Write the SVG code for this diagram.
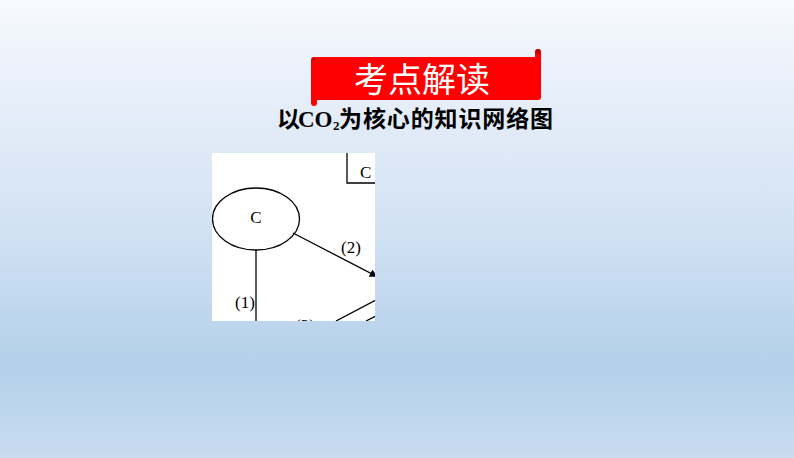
<svg xmlns="http://www.w3.org/2000/svg" width="794" height="458" viewBox="0 0 794 458">
<defs>
<linearGradient id="bg" x1="0" y1="0" x2="0" y2="1">
<stop offset="0" stop-color="#f7fafe"/>
<stop offset="0.22" stop-color="#e6eef9"/>
<stop offset="0.5" stop-color="#d2e2f4"/>
<stop offset="0.8" stop-color="#b3d0ea"/>
<stop offset="1" stop-color="#c9dcf0"/>
</linearGradient>
<clipPath id="panelClip"><rect x="212" y="153" width="163" height="168"/></clipPath>
<marker id="arrow" viewBox="0 0 10 10" refX="9" refY="5" markerWidth="9" markerHeight="8" markerUnits="userSpaceOnUse" orient="auto">
<path d="M0,0 L10,5 L0,10 Z" fill="#000"/>
</marker>
<style>
.lbl{font-family:"Liberation Serif","Times New Roman",serif;font-size:17px;fill:#000;}
.edge{stroke:#000;stroke-width:1.3;fill:none;}
.cjk{font-family:"Noto Sans CJK SC","Noto Sans",sans-serif;}
</style>
</defs>
<rect x="0" y="0" width="794" height="458" fill="url(#bg)"/>

<g id="banner">
<path d="M311,60 Q311,57 314,57 L535,57 L535,52 Q535,49 538,49 Q541,49 541,52 L541,97 Q541,100 538,100 L317,100 L317,103 Q317,106 314,106 Q311,106 311,103 Z" fill="#ff0000"/>
<circle cx="538" cy="51.5" r="2.6" fill="#b80000"/>
<circle cx="313.5" cy="59" r="1.6" fill="#c00000"/>
<text class="cjk" x="422" y="91.5" font-size="34" fill="#ffffff" text-anchor="middle">考点解读</text>
</g>

<g id="subtitle">
<text class="cjk" x="277" y="127" font-size="23" font-weight="bold" fill="#000">以</text>
<text x="298" y="127" font-family="Liberation Serif,'Times New Roman',serif" font-size="23" font-weight="bold" fill="#000">CO</text>
<text x="333" y="130" font-family="Liberation Serif,'Times New Roman',serif" font-size="13" font-weight="bold" fill="#000">2</text>
<text class="cjk" x="339" y="127" font-size="23" font-weight="bold" fill="#000" textLength="214" lengthAdjust="spacing">为核心的知识网络图</text>
</g>

<g id="panel">
<rect x="212" y="153" width="163" height="168" fill="#ffffff"/>
<g clip-path="url(#panelClip)">
<g id="node-C">
<ellipse cx="256" cy="219" rx="43.5" ry="31" fill="none" stroke="#000" stroke-width="1.3"/>
<text class="lbl" x="256" y="223" text-anchor="middle">C</text>
</g>
<g id="node-box">
<path d="M347,153 L347,183 L380,183" class="edge"/>
<text class="lbl" x="360" y="178">C</text>
</g>
<g id="connectors">
<line x1="293" y1="233" x2="377" y2="276.5" class="edge" marker-end="url(#arrow)"/>
<line x1="256" y1="250" x2="256" y2="325" class="edge"/>
<line x1="336" y1="321" x2="378" y2="299" class="edge"/>
<line x1="366" y1="321" x2="378" y2="315" class="edge"/>
<text class="lbl" x="351" y="253" text-anchor="middle">(2)</text>
<text class="lbl" x="245" y="308" text-anchor="middle">(1)</text>
<text class="lbl" x="305" y="331" text-anchor="middle">(3)</text>
</g>
</g>
</g>
</svg>
